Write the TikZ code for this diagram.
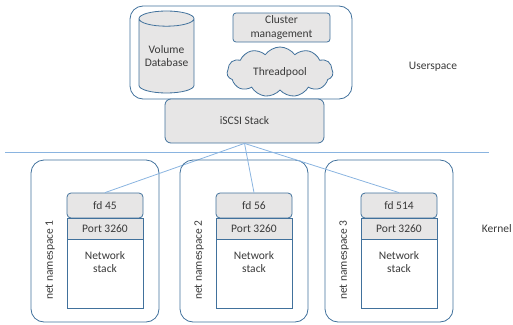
\documentclass[tikz,border=0pt]{standalone}
\usepackage{fontspec}
\setmainfont{Carlito}
\usetikzlibrary{shapes.geometric,shapes.symbols,positioning}
\definecolor{boxline}{HTML}{41719C}
\definecolor{boxfill}{HTML}{E7E6E6}
\definecolor{linkline}{HTML}{8AB4E0}
\definecolor{labeltext}{HTML}{3A3A3A}

\begin{document}
\begin{tikzpicture}[x=1pt,y=-1pt,font=\fontsize{11.5}{13.5}\selectfont,
      region/.style={draw=boxline,line width=.8pt,rounded corners=13pt,text=labeltext},
      part/.style={draw=boxline,line width=.8pt,fill=boxfill,align=center,text=labeltext,inner sep=0pt},
      layer/.style={part,minimum width=76pt},
      link/.style={draw=linkline,line width=.8pt}]

      \useasboundingbox (0,0) rectangle (513,324);

      % userspace
      \node[region,minimum width=222pt,minimum height=93pt] (user) at (241,52.5) {};
      \node[part,cylinder,shape border rotate=90,aspect=.35,minimum width=55pt,minimum height=82pt] (volume) at (166.5,56) {Volume\\Database};
      \node[part,rounded corners=3pt,minimum width=97pt,minimum height=29pt] (cluster) at (281.5,27.5) {Cluster\\management};
      \node[part,cloud,cloud puffs=11,cloud puff arc=110,aspect=2.1,minimum width=106pt,minimum height=50pt] (threadpool) at (280,72) {Threadpool};
      \node[part,rounded corners=6pt,minimum width=159pt,minimum height=44pt] (iscsi) at (244.5,121) {iSCSI Stack};

      \draw[link] (5,152) -- (489,152);

      % kernel namespaces
      \foreach \i/\x/\fd in {1/95/45,2/244/56,3/389/514} {
        \node[region,minimum width=128pt,minimum height=162pt] (ns\i) at (\x,241) {};
        \node[rotate=90,text=labeltext] (nslabel\i) at (\x-45,260) {net namespace \i};
        \node[layer,rounded corners=4pt,minimum height=25pt] (fd\i) at (\x+10,205.5) {fd \fd};
        \node[layer,minimum height=21pt] (port\i) [below=-.8pt of fd\i] {Port 3260};
        \node[layer,fill=white,minimum height=69pt,
          label={[anchor=north,align=center,text=labeltext,yshift=-9pt]north:Network\\stack}] (net\i) [below=-.8pt of port\i] {};
        \draw[link] (iscsi.south) -- (fd\i.north);
      }

      \node[text=labeltext] (userspace) at (433,67) {Userspace};
      \node[text=labeltext,anchor=east,inner sep=1pt] (kernel) at (513,229) {Kernel};

    \end{tikzpicture}
\end{document}
